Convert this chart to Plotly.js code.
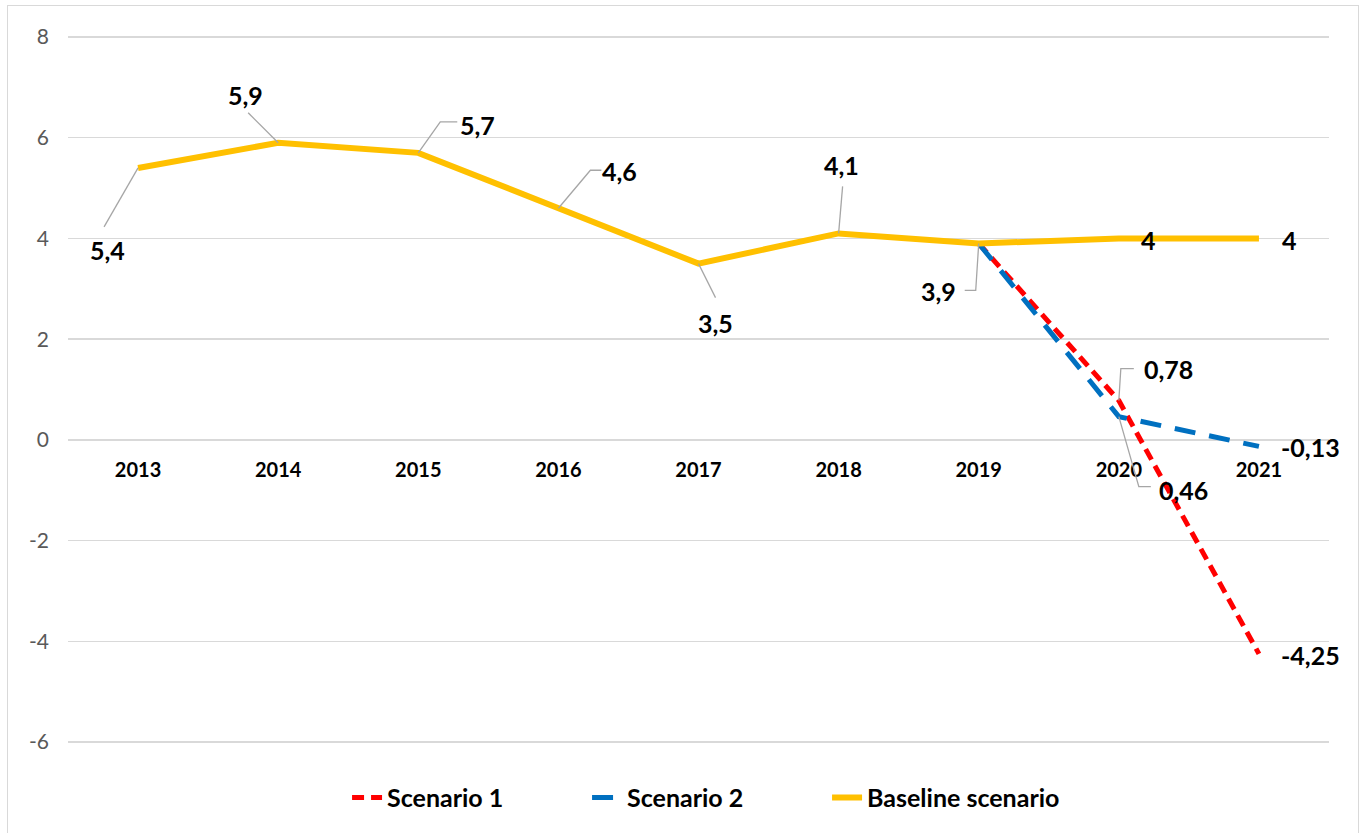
<!DOCTYPE html>
<html>
<head>
<meta charset="utf-8">
<script src="https://cdn.plot.ly/plotly-3.0.1.min.js"></script>
<style>
  html, body { margin: 0; padding: 0; background: #fff; }
  #frame { position: absolute; left: 7px; top: 5px; width: 1352px; height: 840px; border: 1px solid #d9d9d9; box-sizing: border-box; }
  #chart { position: absolute; left: 0; top: 0; width: 1360px; height: 833px; }
  #err { position: absolute; left: 100px; top: 100px; color: red; font: 14px sans-serif; }
</style>
</head>
<body>
<div id="frame"></div>
<div id="chart"></div>
<div id="err"></div>
<script>
// ---- data ----
const years = ['2013','2014','2015','2016','2017','2018','2019','2020','2021'];
const baseline = [5.4, 5.9, 5.7, 4.6, 3.5, 4.1, 3.9, 4, 4];
const scenarioYears = ['2019','2020','2021'];
const scenario1 = [3.9, 0.78, -4.25];
const scenario2 = [3.9, 0.46, -0.13];
const seriesNames = ['Scenario 1', 'Scenario 2', 'Baseline scenario'];
const yTicks = [-6, -4, -2, 0, 2, 4, 6, 8];

// ---- label placement (pixel offsets from each point; screen y down) ----
const labelCfg = [
  ['b', 0, -31, 82, [[-34, 59]]],
  ['b', 1, -33, -48, [[-30, -30]]],
  ['b', 2, 59, -28, [[22, -31], [39, -31]]],
  ['b', 3, 61, -37, [[32, -38], [43, -38]]],
  ['b', 4, 17, 59, [[17, 34]]],
  ['b', 5, 3, -68, [[4, -47]]],
  ['b', 6, -40, 48, [[-3, 47], [-14, 47]]],
  ['b', 7, 30, 2, null],
  ['b', 8, 31, 2, null],
  ['s1', 1, 50, -32, [[2, -32], [15, -32]]],
  ['s1', 2, 52, 1, null],
  ['s2', 1, 65, 73, [[20, 70], [32, 70]]],
  ['s2', 2, 52, 1, null]
];

const fmt = v => String(v).replace('.', ',');
const FONT = 'Lato, "Open Sans", sans-serif';
const YMIN = -6.06, YMAX = 8.06;

const traces = [
  { x: scenarioYears, y: scenario1, name: seriesNames[0], type: 'scatter', mode: 'lines',
    line: { color: '#FF0000', width: 5, dash: '12px,7px' } },
  { x: scenarioYears, y: scenario2, name: seriesNames[1], type: 'scatter', mode: 'lines',
    line: { color: '#0070C0', width: 5, dash: '21px,14px' } },
  { x: years, y: baseline, name: seriesNames[2], type: 'scatter', mode: 'lines',
    line: { color: '#FFC000', width: 6 } }
];

const annotations = [];
const shapes = [];
labelCfg.forEach(([s, i, dx, dy, leader]) => {
  let cat, yv;
  if (s === 'b') { cat = years[i]; yv = baseline[i]; }
  else if (s === 's1') { cat = scenarioYears[i]; yv = scenario1[i]; }
  else { cat = scenarioYears[i]; yv = scenario2[i]; }
  const xi = years.indexOf(cat);
  annotations.push({
    x: xi, y: yv, xref: 'x', yref: 'y', showarrow: false,
    text: '<b>' + fmt(yv) + '</b>', xshift: dx, yshift: -dy,
    font: { family: FONT, size: 25, color: '#000' }
  });
  if (leader) {
    let path = 'M0,0';
    leader.forEach(p => { path += ' L' + p[0] + ',' + (-p[1]); });
    shapes.push({
      type: 'path', xref: 'x', yref: 'y', xsizemode: 'pixel', ysizemode: 'pixel',
      xanchor: xi, yanchor: yv, path: path,
      line: { color: '#A6A6A6', width: 1.3 }, layer: 'above'
    });
  }
});

const layout = {
  width: 1360, height: 833,
  margin: { l: 68, r: 31, t: 34, b: 88 },
  paper_bgcolor: 'rgba(0,0,0,0)', plot_bgcolor: 'rgba(0,0,0,0)',
  showlegend: true,
  legend: {
    orientation: 'h', x: 0.2213, xanchor: 'left', y: -0.042, yanchor: 'top',
    font: { family: FONT, size: 25, color: '#000', weight: 'bold' },
    entrywidth: 195, entrywidthmode: 'pixels'
  },
  xaxis: {
    type: 'category', categoryarray: years, categoryorder: 'array',
    range: [-0.5, 8.5], showgrid: false, zeroline: false, showline: false,
    anchor: 'free', position: (0 - YMIN) / (YMAX - YMIN),
    ticks: '', ticklabelstandoff: 16,
    tickfont: { family: FONT, size: 20, color: '#000', weight: 'bold' },
    fixedrange: true
  },
  yaxis: {
    range: [YMIN, YMAX], tickvals: yTicks, ticktext: yTicks.map(String),
    showgrid: true, gridcolor: '#D9D9D9', gridwidth: 1.3,
    zeroline: false, showline: false, ticks: '',
    ticklabelstandoff: 18,
    tickfont: { family: FONT, size: 21, color: '#595959' },
    fixedrange: true
  },
  annotations: annotations,
  shapes: shapes
};

Plotly.newPlot('chart', traces, layout, { displayModeBar: false, staticPlot: true })
  .catch(e => { document.getElementById('err').textContent = String(e); });
</script>
</body>
</html>
